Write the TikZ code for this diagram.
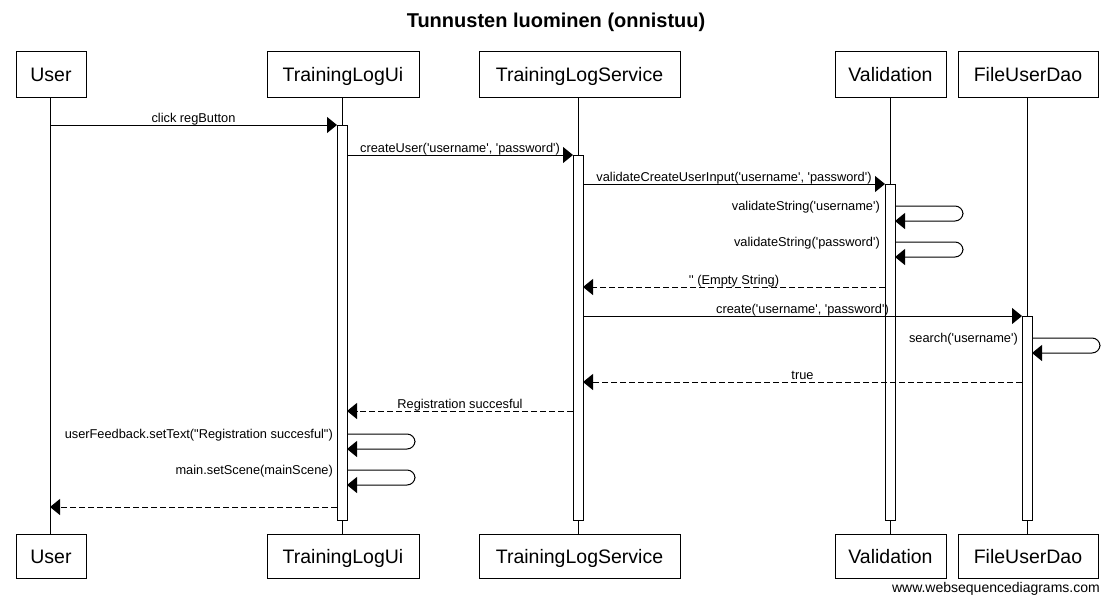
\documentclass[tikz,border=0pt]{standalone}
\usepackage{fontspec}
\setmainfont{Liberation Sans}[Ligatures=TeXOff]
\usetikzlibrary{arrows.meta}
\begin{document}
\begin{tikzpicture}[x=1pt,y=-1pt,
  actor/.style={draw,line width=1pt,fill=white,inner sep=0pt,text height=14pt,text depth=0pt,font=\fontsize{19.5}{23}\selectfont},
  actbar/.style={draw,line width=1pt,fill=white,minimum width=10pt,inner sep=0pt},
  lifeline/.style={line width=1pt},
  msg/.style={line width=1pt,-{Triangle[length=10pt,width=16pt]}},
  ret/.style={msg,dash pattern=on 6pt off 3pt},
  self/.style={msg,rounded corners=8pt},
  lbl/.style={font=\fontsize{12.8}{15}\selectfont,inner sep=0pt},
]
\useasboundingbox (0,0) rectangle (1112,603);
% title
\node[font=\fontsize{20}{24}\selectfont\bfseries,anchor=base,inner sep=0pt] (title) at (556,27.5) {Tunnusten luominen (onnistuu)};
% participants top
\node[actor,minimum width=70pt,minimum height=46pt] (uT) at (51,74) {User};
\node[actor,minimum width=152pt,minimum height=46pt] (iT) at (343,74) {TrainingLogUi};
\node[actor,minimum width=201pt,minimum height=46pt] (sT) at (579.5,74) {TrainingLogService};
\node[actor,minimum width=111pt,minimum height=46pt] (vT) at (890.5,74) {Validation};
\node[actor,minimum width=140pt,minimum height=46pt] (dT) at (1028,74) {FileUserDao};
% participants bottom
\node[actor,minimum width=70pt,minimum height=44pt] (uB) at (51,556) {User};
\node[actor,minimum width=152pt,minimum height=44pt] (iB) at (343,556) {TrainingLogUi};
\node[actor,minimum width=201pt,minimum height=44pt] (sB) at (579.5,556) {TrainingLogService};
\node[actor,minimum width=111pt,minimum height=44pt] (vB) at (890.5,556) {Validation};
\node[actor,minimum width=140pt,minimum height=44pt] (dB) at (1028,556) {FileUserDao};
% lifelines
\coordinate (uL1) at (50,97); \coordinate (uL2) at (50,534);
\coordinate (iL1) at (342,97); \coordinate (iL2) at (342,534);
\coordinate (sL1) at (578,97); \coordinate (sL2) at (578,534);
\coordinate (vL1) at (890,97); \coordinate (vL2) at (890,534);
\coordinate (dL1) at (1027,97); \coordinate (dL2) at (1027,534);
\draw[lifeline] (uL1) -- (uL2);
\draw[lifeline] (iL1) -- (iL2);
\draw[lifeline] (sL1) -- (sL2);
\draw[lifeline] (vL1) -- (vL2);
\draw[lifeline] (dL1) -- (dL2);
% activation bars
\node[actbar,minimum height=395pt] (aI) at (342,322.5) {};
\node[actbar,minimum height=365pt] (aS) at (578,337.5) {};
\node[actbar,minimum height=336pt] (aV) at (890,352) {};
\node[actbar,minimum height=204pt] (aD) at (1027,418) {};
% 1 click regButton
\coordinate (m1a) at (50,125); \coordinate (m1b) at (337,125);
\draw[msg] (m1a) -- node[lbl,anchor=base,yshift=3pt] (l1) {click regButton} (m1b);
% 2 createUser
\coordinate (m2a) at (347,155); \coordinate (m2b) at (573,155);
\draw[msg] (m2a) -- node[lbl,anchor=base,yshift=3pt] (l2) {createUser('username', 'password')} (m2b);
% 3 validateCreateUserInput
\coordinate (m3a) at (583,184); \coordinate (m3b) at (885,184);
\draw[msg] (m3a) -- node[lbl,anchor=base,yshift=3pt] (l3) {validateCreateUserInput('username', 'password')} (m3b);
% 4 validateString username
\coordinate (m4a) at (895,206); \coordinate (m4b) at (895,221);
\draw[self] (m4a) -- (963,206) -- (963,221) -- (m4b);
\node[lbl,anchor=base east] (l4) at (880,210.5) {validateString('username')};
% 5 validateString password
\coordinate (m5a) at (895,242); \coordinate (m5b) at (895,257);
\draw[self] (m5a) -- (963,242) -- (963,257) -- (m5b);
\node[lbl,anchor=base east] (l5) at (880,246.5) {validateString('password')};
% 6 empty string
\coordinate (m6a) at (885,287); \coordinate (m6b) at (583,287);
\draw[ret] (m6a) -- node[lbl,anchor=base,yshift=3pt] (l6) {'' (Empty String)} (m6b);
% 7 create
\coordinate (m7a) at (583,316); \coordinate (m7b) at (1022,316);
\draw[msg] (m7a) -- node[lbl,anchor=base,yshift=3pt] (l7) {create('username', 'password')} (m7b);
% 8 search
\coordinate (m8a) at (1032,338); \coordinate (m8b) at (1032,353);
\draw[self] (m8a) -- (1100,338) -- (1100,353) -- (m8b);
\node[lbl,anchor=base east] (l8) at (1018,342.5) {search('username')};
% 9 true
\coordinate (m9a) at (1022,382); \coordinate (m9b) at (583,382);
\draw[ret] (m9a) -- node[lbl,anchor=base,yshift=3pt] (l9) {true} (m9b);
% 10 Registration succesful
\coordinate (m10a) at (573,411); \coordinate (m10b) at (347,411);
\draw[ret] (m10a) -- node[lbl,anchor=base,yshift=3pt] (l10) {Registration succesful} (m10b);
% 11 userFeedback
\coordinate (m11a) at (347,434); \coordinate (m11b) at (347,449);
\draw[self] (m11a) -- (415,434) -- (415,449) -- (m11b);
\node[lbl,anchor=base east] (l11) at (333,438.5) {userFeedback.setText("Registration succesful")};
% 12 main.setScene
\coordinate (m12a) at (347,470); \coordinate (m12b) at (347,485);
\draw[self] (m12a) -- (415,470) -- (415,485) -- (m12b);
\node[lbl,anchor=base east] (l12) at (333,474.5) {main.setScene(mainScene)};
% 13 return to user
\coordinate (m13a) at (337,507); \coordinate (m13b) at (50,507);
\draw[ret] (m13a) -- (m13b);
% footer
\node[font=\fontsize{14}{16}\selectfont,anchor=base east,inner sep=0pt] (foot) at (1100,592) {www.websequencediagrams.com};
\end{tikzpicture}
\end{document}
